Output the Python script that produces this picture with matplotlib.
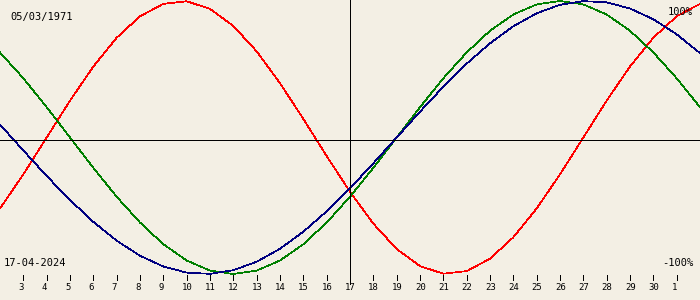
import matplotlib
matplotlib.use('Agg')
import matplotlib.pyplot as plt

# day numbers counted from 1 April 2024 (31 = 1 May)
days = list(range(2, 33))
tick_days = list(range(3, 32))
tick_labels = [str(d) if d <= 30 else str(d - 30) for d in tick_days]
today = 17

birth_text = '05/03/1971'
date_text = '17-04-2024'

physical = [-0.520, -0.270, 0.000, 0.270, 0.520, 0.731, 0.888, 0.979, 0.998, 0.942,
            0.817, 0.631, 0.398, 0.136, -0.136, -0.398, -0.631, -0.817, -0.942, -0.998,
            -0.979, -0.888, -0.731, -0.520, -0.270, 0.000, 0.270, 0.520, 0.731, 0.888, 0.979]
emotional = [0.623, 0.434, 0.222, 0.000, -0.222, -0.434, -0.623, -0.782, -0.901, -0.975,
             -1.000, -0.975, -0.901, -0.782, -0.623, -0.434, -0.222, 0.000, 0.222, 0.434,
             0.623, 0.782, 0.901, 0.975, 1.000, 0.975, 0.901, 0.782, 0.623, 0.434, 0.222]
intellectual = [0.095, -0.095, -0.282, -0.458, -0.618, -0.756, -0.866, -0.945, -0.990, -0.999,
                -0.972, -0.910, -0.815, -0.690, -0.541, -0.372, -0.189, 0.000, 0.189, 0.372,
                0.541, 0.690, 0.815, 0.910, 0.972, 0.999, 0.990, 0.945, 0.866, 0.756, 0.618]

BG = '#f3efe4'
FONT = 'DejaVu Sans Mono'
LW = 0.5

fig = plt.figure(figsize=(7, 3), dpi=100, facecolor=BG)
ax = fig.add_axes([0, 0, 1, 1])
ax.set_facecolor(BG)
ax.set_xlim(2, 32)
ax.set_ylim(-1.1905, 1.0073)
ax.axis('off')

# curves
ax.plot(days, physical, color='#ff0000', lw=LW, antialiased=False)
ax.plot(days, emotional, color='#008000', lw=LW, antialiased=False)
ax.plot(days, intellectual, color='#000080', lw=LW, antialiased=False)

# cross lines
ax.axhline(-0.0183, color='black', lw=LW, antialiased=False)
xt = ax.get_xaxis_transform()
ax.vlines(today, 0.053, 1, color='black', lw=LW, transform=xt, antialiased=False)

# day ticks
for d, lab in zip(tick_days, tick_labels):
    if d != today:
        ax.vlines(d, 0.067, 0.085, color='black', lw=LW, transform=xt, antialiased=False)
    ax.annotate(lab, (d, 0.04), xycoords=xt, xytext=(-5, 0), textcoords='offset pixels',
                ha='left', va='center', fontsize=6.5, family=FONT)

ax.text(10 / 700, 1 - 17 / 300, birth_text, transform=ax.transAxes,
        ha='left', va='center', fontsize=7.5, family=FONT)
ax.text(4 / 700, 1 - 262.5 / 300, date_text, transform=ax.transAxes,
        ha='left', va='center', fontsize=7.5, family=FONT)
ax.text(693 / 700, 1 - 12 / 300, '100%', transform=ax.transAxes,
        ha='right', va='center', fontsize=7.5, family=FONT)
ax.text(693 / 700, 1 - 262.5 / 300, '-100%', transform=ax.transAxes,
        ha='right', va='center', fontsize=7.5, family=FONT)

fig.savefig('out.png', dpi=100, facecolor=BG)
